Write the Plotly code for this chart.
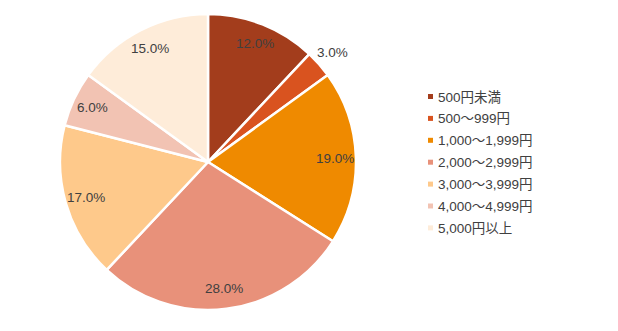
import math
import plotly.graph_objects as go

# Price bands and their share (%)
categories = ["500円未満", "500～999円", "1,000～1,999円", "2,000～2,999円",
              "3,000～3,999円", "4,000～4,999円", "5,000円以上"]
shares = [12.0, 3.0, 19.0, 28.0, 17.0, 6.0, 15.0]
colors = ["#a33d1c", "#d9531f", "#ef8a00", "#e8917a", "#fec98b", "#f2c3b3", "#feecd9"]
label_outside = [False, True, False, False, False, False, False]

FONT = "Liberation Sans, Arial, Noto Sans CJK JP, sans-serif"
TEXT = "#404040"
W, H = 618, 331
cx, cy, r = 208, 162, 148          # pie centre / radius in px

fig = go.Figure()
fig.add_trace(go.Pie(
    labels=categories,
    values=shares,
    sort=False,
    direction="clockwise",
    rotation=0,
    marker=dict(colors=colors, line=dict(color="white", width=2.5)),
    textinfo="none",
    showlegend=False,
    hoverinfo="label+percent",
    domain=dict(x=[(cx - r) / W, (cx + r) / W],
                y=[(H - cy - r) / H, (H - cy + r) / H]),
))

# Percentage labels placed along each slice's mid-angle
total = sum(shares)
cum = 0.0
annotations = []
for v, outside in zip(shares, label_outside):
    mid = (cum + v / 2) / total * 2 * math.pi
    cum += v
    rho = 1.12 * r if outside else 0.86 * r
    px = cx + rho * math.sin(mid)
    py = cy - rho * math.cos(mid)
    annotations.append(dict(
        x=px / W, y=1 - py / H, xref="paper", yref="paper",
        text=f"{v:.1f}%", showarrow=False, xanchor="center", yanchor="middle",
        font=dict(family=FONT, size=13.5, color=TEXT),
    ))

# Legend: small colour squares with category names
lx, ly0, step, sq = 430.5, 96.5, 21.9, 5
shapes = []
for i, (name, c) in enumerate(zip(categories, colors)):
    y = ly0 + i * step
    shapes.append(dict(
        type="rect", xref="paper", yref="paper", line=dict(width=0), fillcolor=c,
        x0=(lx - sq / 2) / W, x1=(lx + sq / 2) / W,
        y0=1 - (y + sq / 2) / H, y1=1 - (y - sq / 2) / H,
    ))
    annotations.append(dict(
        x=(lx + 5.5) / W, y=1 - (y + 0.5) / H, xref="paper", yref="paper",
        text=name, showarrow=False, xanchor="left", yanchor="middle",
        font=dict(family=FONT, size=13.5, color=TEXT),
    ))

fig.update_layout(
    width=W, height=H,
    margin=dict(l=0, r=0, t=0, b=0),
    paper_bgcolor="white", plot_bgcolor="white",
    font=dict(family=FONT, size=13.5, color=TEXT),
    annotations=annotations,
    shapes=shapes,
    showlegend=False,
)

fig.write_html("out.html")
